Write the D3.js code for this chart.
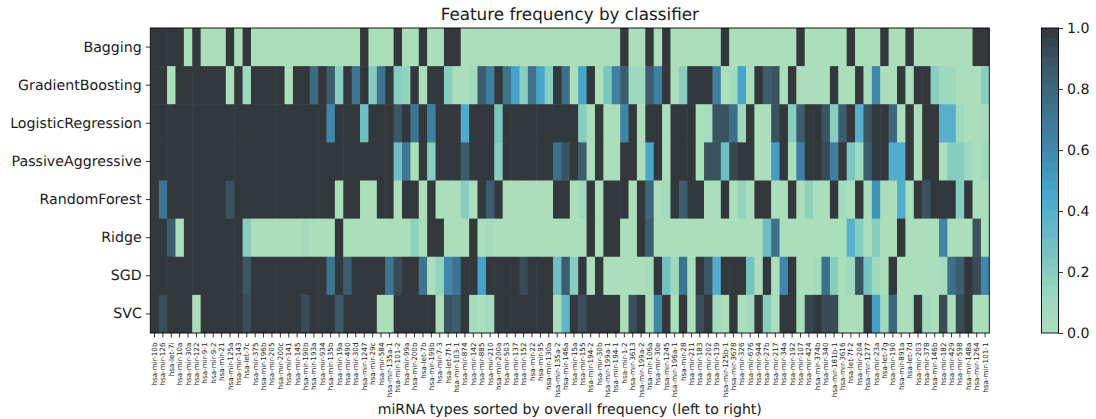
<!DOCTYPE html>
<html>
<head>
<meta charset="utf-8">
<script src="https://cdn.jsdelivr.net/npm/d3@7"></script>
<style>
  html, body { margin: 0; padding: 0; background: #fff; }
  svg { display: block; }
  text { font-family: "DejaVu Sans", sans-serif; fill: #1a1a1a; text-rendering: geometricPrecision; }
</style>
</head>
<body>
<svg id="chart" width="1096" height="419"></svg>
<script>
// miRNA names, left to right
var MIRNAS = ['10b','126','let-7i','10a','30a','122','9-1','9-2','21','125a',
  '143','let-7c','375','196b','205','200c','141','145','190b','193a',
  '934','135b','19a','490','30d','1247','29c','584','135a-1','101-2',
  '99a','200b','let-7b','199b','7-3','let-7f-1','103-1','874','142','885',
  '210','200a','503','137','152','22','95','130a','135a-2','146a',
  '15a','155','194-2','30b','199a-1','194-1','1-2','3613','199a-2','106a',
  '30e','1245','196a-1','28','211','183','202','139','125b-1','3678',
  '326','676','944','27b','217','34a','192','107','424','374b',
  '340','181b-1','3616','let-7f-2','204','1277','23a','let-7g','190','891a',
  'let-7d','203','378','146b','182','429','598','148a','1264','101-1'];

var CLASSIFIERS = ['Bagging','GradientBoosting','LogisticRegression','PassiveAggressive',
  'RandomForest','Ridge','SGD','SVC'];

// one row of frequencies per classifier
var bagging = [1,1,1,1,0,1,0,0,0,1, 0,1,0,0,0,0,0,0,0,0, 0,0,0,0,0,1,0,0,0,1, 0,0,1,0,0,1,1,0,0,0,
  0,0,0,0,0,0,0,0,0,0, 0,0,0,0,0,0,1,0,0,1, 0,1,0,0,0,0,0,0,1,0, 0,0,0,0,0,0,0,1,0,0,
  0,0,0,1,0,0,0,1,0,0, 1,0,0,0,0,0,0,0,1,1];
var gradientBoosting = [1,1,0,1,1,1,1,1,1,0, 1,.08,1,1,1,1,0,1,1,.78, 1,.85,.2,1,.72,1,.2,.72,1,.2,
  .15,1,0,1,1,.2,0,0,.07,.85, .65,1,.72,.48,.2,.75,.47,.2,1,.75, 0,.47,1,0,.25,.65,.85,.1,.1,.85,
  .65,1,0,.2,1,1,1,.65,0,.07, .47,0,1,.85,.9,0,1,0,0,0, 0,1,0,0,1,0,.6,0,0,1, 0,1,1,.2,.1,.1,0,0,0,.2];
var logisticRegression = [1,1,1,1,1,1,1,1,1,1, 1,1,1,1,1,1,1,1,1,1, 1,.6,1,1,1,.3,1,1,1,.88,
  1,.72,1,.65,1,1,1,.43,1,1, 1,.25,1,1,1,1,1,1,1,1, 1,.2,0,1,0,0,.62,1,0,1,
  1,0,1,1,1,0,.05,.9,.9,.75, .1,1,0,0,.9,1,.2,.85,1,1, .9,.2,.85,1,.4,.9,1,1,.8,0, 1,0,1,1,.4,.4,.08,0,0,.05];
var passiveAggressive = [1,1,1,1,1,1,1,1,1,1, 1,1,1,1,1,1,1,1,1,1, 1,1,1,1,1,1,1,1,1,.3,
  .7,0,1,.2,1,1,1,.85,1,1, 1,.2,1,1,1,1,1,1,.75,.9, 1,.85,0,1,0,0,1,1,0,.45,
  1,0,1,1,1,0,.9,.9,.3,.95, 1,1,0,0,.5,1,0,.65,1,1, .93,.65,1,.25,.08,.85,1,1,.42,.42, 1,0,1,1,0,.2,.2,.1,0,.1];
var randomForest = [1,.72,1,1,1,1,1,1,1,.9, 1,1,1,1,1,1,1,1,1,1, 1,1,0,1,1,0,0,1,1,0,
  1,1,0,1,0,0,0,.2,0,1, .85,1,0,0,0,0,0,0,1,1, 0,.08,1,0,1,1,1,0,1,.8,
  0,.07,1,.85,1,1,0,0,1,0, .15,0,1,1,0,0,1,0,.17,0, 0,1,.07,0,1,0,.55,0,0,.42, 0,1,.9,1,1,1,.2,1,0,0];
var ridge = [1,1,.85,0,1,1,1,1,1,1, 1,.2,0,0,0,0,0,0,.05,0, 0,0,1,0,0,0,0,0,0,0,
  0,.17,0,1,1,0,0,0,1,0, .05,0,0,0,0,0,0,0,0,0, 0,0,1,0,1,1,0,0,1,.85,
  0,0,0,0,0,0,0,0,0,0, 0,0,0,.3,.75,0,0,0,0,0, 0,0,0,.4,.2,0,.2,0,0,1, 0,0,0,0,.62,0,0,0,.9,0];
var sgd = [1,1,1,1,1,1,1,1,1,1, 1,.88,1,1,1,1,1,1,1,1, 1,.72,1,.85,1,1,1,1,.72,.93,
  1,1,.72,0,.15,.6,.72,1,1,.48, 1,1,1,1,.93,1,1,1,.3,.85, .2,1,0,1,0,0,0,0,0,.05,
  1,.28,.1,.72,.02,1,.88,.42,1,1, 1,.27,0,1,0,.6,1,0,0,.07, .75,.2,0,.08,.9,.27,.1,0,1,0, 0,0,0,0,.05,.75,.85,1,.93,.6];
var svc = [1,.92,1,1,1,0,1,1,1,1, 1,.92,1,1,1,1,1,1,.93,1, 1,1,.87,1,1,1,1,0,0,1,
  1,1,1,1,0,.9,.85,1,.05,0, .05,1,1,1,1,1,1,1,0,.35, 1,.92,1,1,1,1,0,.92,1,0,
  .62,1,0,1,0,.92,1,.07,0,1, 0,.07,1,.2,0,1,1,0,.95,1, .93,.93,0,0,0,1,.5,.1,.8,0, 0,1,.07,0,.93,0,.93,1,0,0];

var ROWS = [bagging, gradientBoosting, logisticRegression, passiveAggressive,
            randomForest, ridge, sgd, svc];

var CBAR_TICKS = [0, 0.2, 0.4, 0.6, 0.8, 1];

var PLOT = {left: 150.3, right: 989.3, top: 28, bottom: 333};
var CBAR = {left: 1041.5, right: 1058.5, bands: 32};
var OVERLAP = 0.6; // hides the seams between neighbouring cells

var svg = d3.select('#chart');

var x = d3.scaleBand().domain(d3.range(MIRNAS.length)).range([PLOT.left, PLOT.right]);
var y = d3.scaleBand().domain(CLASSIFIERS).range([PLOT.top, PLOT.bottom]);

// light green -> blue -> almost black
var color = d3.scaleLinear()
    .domain([0, 0.12, 0.25, 0.47, 0.6, 0.75, 0.9, 1])
    .range(['#abdfbb', '#9bd8bf', '#7ac6c0', '#45a5cd', '#3f88ab', '#3d7089', '#3a5361', '#33383c'])
    .clamp(true);

svg.append('clipPath').attr('id', 'plot-clip')
  .append('rect')
    .attr('x', PLOT.left).attr('y', PLOT.top)
    .attr('width', PLOT.right - PLOT.left).attr('height', PLOT.bottom - PLOT.top);

// the cells
var rows = svg.append('g').attr('clip-path', 'url(#plot-clip)').selectAll('g')
    .data(ROWS)
    .join('g')
    .attr('transform', (d, i) => `translate(0,${y(CLASSIFIERS[i])})`);

rows.selectAll('rect')
    .data(d => d)
    .join('rect')
    .attr('x', (d, i) => x(i))
    .attr('width', x.bandwidth() + OVERLAP)
    .attr('height', y.bandwidth() + OVERLAP)
    .attr('fill', d => color(d));

// frame
svg.append('rect')
    .attr('x', PLOT.left).attr('y', PLOT.top)
    .attr('width', PLOT.right - PLOT.left).attr('height', PLOT.bottom - PLOT.top)
    .attr('fill', 'none').attr('stroke', '#000').attr('stroke-width', 0.9);

// axes
var xAxis = svg.append('g')
    .attr('transform', `translate(0,${PLOT.bottom})`)
    .call(d3.axisBottom(x).tickSize(4.5).tickSizeOuter(0).tickFormat(i => {
        var name = MIRNAS[i];
        return name.startsWith('let') ? 'hsa-' + name : 'hsa-mir-' + name;
    }));
xAxis.select('.domain').remove();
xAxis.selectAll('.tick line').attr('stroke', '#000').attr('stroke-width', 0.8);
xAxis.selectAll('text')
    .attr('transform', 'rotate(-90)')
    .attr('x', -9.5).attr('y', 0).attr('dy', '0.35em')
    .attr('text-anchor', 'end')
    .style('font-size', '7.2px');

var yAxis = svg.append('g')
    .attr('transform', `translate(${PLOT.left},0)`)
    .call(d3.axisLeft(y).tickSize(4.5).tickSizeOuter(0));
yAxis.select('.domain').remove();
yAxis.selectAll('.tick line').attr('stroke', '#000').attr('stroke-width', 0.8);
yAxis.selectAll('text').attr('x', -8.5).style('font-size', '14.2px');

svg.append('text')
    .attr('x', (PLOT.left + PLOT.right) / 2).attr('y', 19.5)
    .attr('text-anchor', 'middle').style('font-size', '16.8px')
    .text('Feature frequency by classifier');

svg.append('text')
    .attr('x', (PLOT.left + PLOT.right) / 2).attr('y', 414)
    .attr('text-anchor', 'middle').style('font-size', '14.1px')
    .text('miRNA types sorted by overall frequency (left to right)');

// colorbar
var cbarY = d3.scaleLinear().domain([0, 1]).range([PLOT.bottom, PLOT.top]);
var bands = d3.range(CBAR.bands);

svg.append('g').selectAll('rect')
    .data(bands)
    .join('rect')
    .attr('x', CBAR.left)
    .attr('width', CBAR.right - CBAR.left)
    .attr('y', d => cbarY((d + 1) / CBAR.bands))
    .attr('height', d => (PLOT.bottom - PLOT.top) / CBAR.bands + (d ? OVERLAP : 0))
    .attr('fill', d => color((d + 0.5) / CBAR.bands));

svg.append('rect')
    .attr('x', CBAR.left).attr('y', PLOT.top)
    .attr('width', CBAR.right - CBAR.left).attr('height', PLOT.bottom - PLOT.top)
    .attr('fill', 'none').attr('stroke', '#000').attr('stroke-width', 0.9);

var cAxis = svg.append('g')
    .attr('transform', `translate(${CBAR.right},0)`)
    .call(d3.axisRight(cbarY).tickValues(CBAR_TICKS).tickFormat(d3.format('.1f')).tickSize(4.5).tickSizeOuter(0));
cAxis.select('.domain').remove();
cAxis.selectAll('.tick line').attr('stroke', '#000').attr('stroke-width', 0.8);
cAxis.selectAll('text').attr('x', 8.5).style('font-size', '14.2px');
</script>
</body>
</html>
